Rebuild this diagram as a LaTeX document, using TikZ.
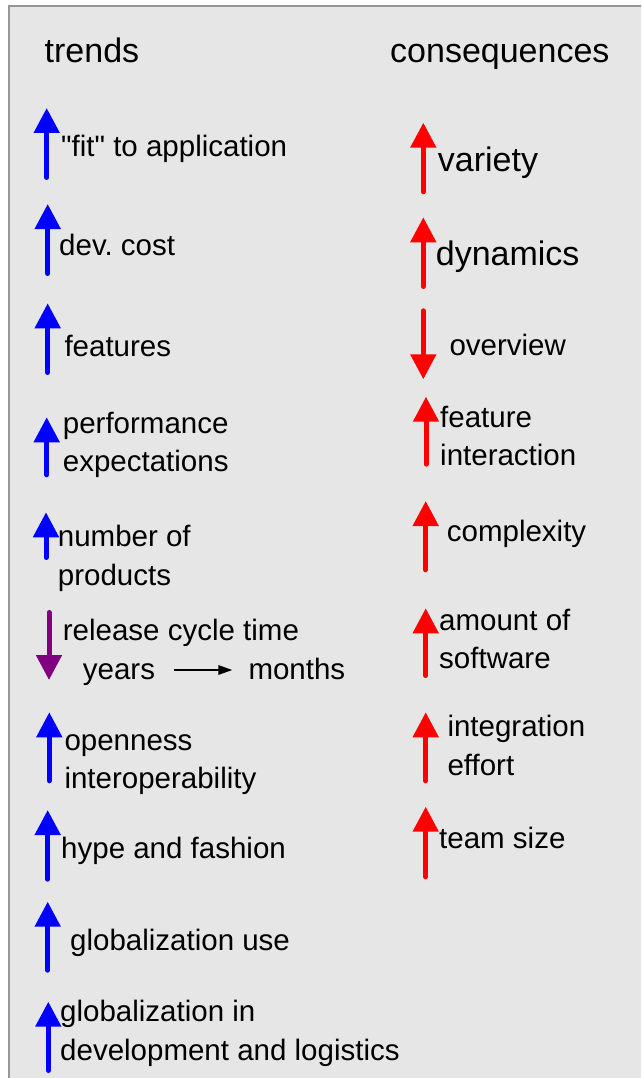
\documentclass[tikz,border=0pt]{standalone}
\usepackage{fontspec}
\setmainfont{Liberation Sans}
\newfontfamily\qfont{Liberation Sans}
\usetikzlibrary{arrows.meta}
\definecolor{boxfill}{RGB}{230,230,230}
\definecolor{boxline}{RGB}{150,150,150}
\definecolor{trendpurple}{RGB}{128,0,128}
\newcommand\mytwo[2]{\vtop{\baselineskip=38.3pt\hbox{#1}\hbox{#2}}}
\newcommand\sq{{\qfont"}}
\frenchspacing
\tikzset{
  x=1pt, y=-1pt,
  lbl/.style={anchor=base west, inner sep=0pt, font=\fontsize{29.5}{38}\selectfont},
  biglbl/.style={anchor=base west, inner sep=0pt, font=\fontsize{34}{40}\selectfont},
  bigarrow/.style={line width=5pt, line cap=round, -{Triangle[width=25pt,length=25pt]}},
  uptrend/.style={bigarrow, draw=blue, fill=blue},
  upcons/.style={bigarrow, draw=red, fill=red},
  purplearrow/.style={bigarrow, draw=trendpurple, fill=trendpurple},
  smallarrow/.style={line width=1.5pt, -{Triangle[width=9.5pt,length=14pt]}}
}
\begin{document}
\begin{tikzpicture}
\useasboundingbox (0,0) rectangle (641,1078);
\clip (0,0) rectangle (641,1078);
\draw[boxline, line width=1.5pt, fill=boxfill] (9,6) rectangle (660,1100);

% headings
\node[biglbl] (trends) at (44.5,63) {trends};
\node[biglbl] (cons) at (390,63) {consequences};

% trends (left column)
\node[lbl] (t1) at (61,157) {\sq fit\sq{} to application};
\node[lbl] (t2) at (59,255.7) {dev. cost};
\node[lbl] (t3) at (64.3,356.7) {features};
\node[lbl] (t4) at (62.7,433.3) {\mytwo{performance}{expectations}};
\node[lbl] (t5) at (57.7,546.7) {\mytwo{number of}{products}};
\node[lbl] (t6) at (62.7,640) {release cycle time};
\node[lbl] (years) at (82.7,679.3) {years};
\node[lbl] (months) at (248.3,679.3) {months};
\node[lbl] (t7) at (64.3,750) {\mytwo{openness}{interoperability}};
\node[lbl] (t8) at (61,858.3) {hype and fashion};
\node[lbl] (t9) at (70,950) {globalization use};
\node[lbl] (t10) at (60,1021.7) {\mytwo{globalization in}{development and logistics}};

\draw[smallarrow] ([xshift=19pt,yshift=9.3pt]years.base east) -- ([xshift=-16pt,yshift=9.3pt]months.base west);

% consequences (right column)
\node[biglbl] (c1) at (437.7,171.7) {variety};
\node[biglbl] (c2) at (435.7,265) {dynamics};
\node[lbl] (c3) at (449.3,355) {overview};
\node[lbl] (c4) at (440,427.3) {\mytwo{feature}{interaction}};
\node[lbl] (c5) at (446.7,541.7) {complexity};
\node[lbl] (c6) at (439,630) {\mytwo{amount of}{software}};
\node[lbl] (c7) at (447.3,736.7) {\mytwo{integration}{effort}};
\node[lbl] (c8) at (439,848.3) {team size};

% arrow end points (left)
\coordinate (ta1b) at (46.7,177.5);  \coordinate (ta1t) at (46.7,108);
\coordinate (ta2b) at (47.7,273.5);  \coordinate (ta2t) at (47.7,204);
\coordinate (ta3b) at (47.7,372.5);  \coordinate (ta3t) at (47.7,303.3);
\coordinate (ta4b) at (46.7,474.8);  \coordinate (ta4t) at (46.7,417.3);
\coordinate (ta5b) at (46,557.5);    \coordinate (ta5t) at (46,512.3);
\coordinate (ta6b) at (49,612.5);    \coordinate (ta6t) at (49,680);
\coordinate (ta7b) at (49.3,780.8);  \coordinate (ta7t) at (49.3,712.3);
\coordinate (ta8b) at (47.7,879.2);  \coordinate (ta8t) at (47.7,810);
\coordinate (ta9b) at (47.7,970.2);  \coordinate (ta9t) at (47.7,901.7);
\coordinate (ta10b) at (48.3,1070.5); \coordinate (ta10t) at (48.3,1001.7);

\draw[uptrend] (ta1b) -- (ta1t);
\draw[uptrend] (ta2b) -- (ta2t);
\draw[uptrend] (ta3b) -- (ta3t);
\draw[uptrend] (ta4b) -- (ta4t);
\draw[uptrend] (ta5b) -- (ta5t);
\draw[purplearrow] (ta6b) -- (ta6t);
\draw[uptrend] (ta7b) -- (ta7t);
\draw[uptrend] (ta8b) -- (ta8t);
\draw[uptrend] (ta9b) -- (ta9t);
\draw[uptrend] (ta10b) -- (ta10t);

% arrow end points (right)
\coordinate (ca1b) at (423.3,191.8); \coordinate (ca1t) at (423.3,122.7);
\coordinate (ca2b) at (423.3,286.5); \coordinate (ca2t) at (423.3,217.3);
\coordinate (ca3b) at (423.3,310.8); \coordinate (ca3t) at (423.3,379.3);
\coordinate (ca4b) at (426,464.2);   \coordinate (ca4t) at (426,396.7);
\coordinate (ca5b) at (425.7,569.8); \coordinate (ca5t) at (425.7,501);
\coordinate (ca6b) at (425.7,675.5); \coordinate (ca6t) at (425.7,608.3);
\coordinate (ca7b) at (425.7,780.8); \coordinate (ca7t) at (425.7,712.3);
\coordinate (ca8b) at (425.7,876.8); \coordinate (ca8t) at (425.7,806.7);

\draw[upcons] (ca1b) -- (ca1t);
\draw[upcons] (ca2b) -- (ca2t);
\draw[upcons] (ca3b) -- (ca3t);
\draw[upcons] (ca4b) -- (ca4t);
\draw[upcons] (ca5b) -- (ca5t);
\draw[upcons] (ca6b) -- (ca6t);
\draw[upcons] (ca7b) -- (ca7t);
\draw[upcons] (ca8b) -- (ca8t);
\end{tikzpicture}
\end{document}
